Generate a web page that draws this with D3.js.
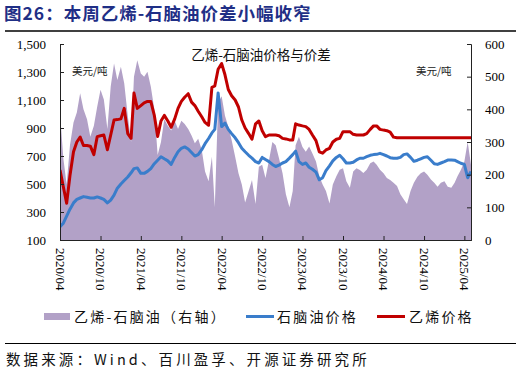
<!DOCTYPE html>
<html>
<head>
<meta charset="utf-8">
<script src="https://cdn.jsdelivr.net/npm/d3@7"></script>
<style>
  body { margin: 0; background: #fff; }
  svg { display: block; }
  .num { font-family: "Liberation Serif", "Times New Roman", serif; font-size: 13px; fill: #000; }
  .cjk { font-family: "Noto Sans CJK SC", sans-serif; }
</style>
</head>
<body>
<script>
"use strict";

const WIDTH = 521
const HEIGHT = 374

// half-month samples, 2020/04/01 .. 2025/05/01
const start_year = 2020
const start_month = 3 // April (0-based)

const naphtha = [
    195, 220, 270, 320, 365, 390, 400, 410, 405, 400, 400, 408,
    400, 390, 365, 385, 420, 470, 500, 525, 550, 580, 610, 615,
    576, 576, 590, 610, 645, 670, 695, 680, 665, 640, 690, 730,
    755, 765, 750, 725, 700, 710, 745, 788, 825, 865, 890, 1150,
    910, 935, 890, 860, 830, 795, 755, 730, 705, 685, 660, 650,
    690, 675, 660, 640, 625, 635, 650, 660, 685, 710, 735, 660,
    640, 650, 620, 605, 585, 530, 545, 595, 630, 665, 690, 705,
    680, 650, 650, 655, 672, 684, 684, 695, 705, 710, 712, 719,
    710, 700, 688, 684, 684, 690, 710, 715, 690, 662, 670, 680,
    690, 695, 670, 645, 640, 650, 660, 671, 672, 670, 660, 648,
    640, 545, 590
]

const ethylene = [
    600, 480, 362, 560, 730, 800, 835, 775, 775, 770, 710, 838,
    845, 850, 745, 850, 957, 960, 965, 1040, 860, 826, 1150, 1040,
    1060, 1080, 1090, 1090, 990, 840, 950, 990, 950, 905, 965, 1040,
    1090, 1120, 1145, 1085, 1060, 1020, 980, 940, 920, 1190, 1200, 1320,
    1360, 1280, 1175, 1130, 1100, 1050, 957, 900, 860, 820, 930, 950,
    880, 838, 850, 850, 850, 845, 826, 822, 815, 814, 930, 921,
    915, 910, 890, 850, 810, 730, 720, 743, 755, 800, 820, 826,
    874, 874, 874, 855, 850, 850, 850, 860, 890, 915, 915, 890,
    885, 881, 870, 835, 830, 830, 830, 830, 830, 830, 830, 830,
    830, 830, 830, 830, 830, 830, 830, 830, 830, 830, 830, 830,
    830, 830, 830
]

const spread = [
    390, 250, 170, 290, 360, 390, 449, 400, 370, 316, 350, 408,
    460, 430, 340, 470, 540, 490, 530, 480, 380, 300, 500, 550,
    510, 500, 515, 470, 400, 260, 300, 370, 350, 335, 365, 340,
    365, 355, 340, 320, 296, 310, 276, 210, 180, 255, 100, 420,
    440, 380, 347, 306, 255, 204, 170, 115, 150, 184, 110, 224,
    230, 190, 245, 300, 290, 250, 204, 140, 100, 150, 290, 316,
    285, 270, 286, 265, 240, 195, 170, 150, 112, 170, 195, 215,
    220, 180, 160, 210, 220, 214, 205, 215, 235, 240, 230, 215,
    204, 190, 184, 175, 165, 140, 125, 110, 150, 175, 194, 204,
    210, 200, 185, 175, 163, 175, 180, 163, 160, 175, 195, 214,
    240, 300, 230
]

const left_ticks = [100, 300, 500, 700, 900, 1100, 1300, 1500]
const right_ticks = [0, 100, 200, 300, 400, 500, 600]
const x_tick_labels = ["2020/04", "2020/10", "2021/04", "2021/10", "2022/04", "2022/10",
    "2023/04", "2023/10", "2024/04", "2024/10", "2025/04"]

const dates = naphtha.map((_, i) =>
    new Date(start_year, start_month + Math.floor(i / 2), i % 2 ? 16 : 1))

const rows = dates.map((d, i) => ({
    date: d, naphtha: naphtha[i], ethylene: ethylene[i], spread: spread[i]
}))

const PURPLE = "#b2a1c7"
const BLUE = "#3a7dcb"
const RED = "#c00000"

const plot = { left: 60, right: 471, top: 44, bottom: 240 }

const svg = d3.select("body").append("svg")
    .attr("width", WIDTH)
    .attr("height", HEIGHT)

// title block
svg.append("text")
    .attr("class", "cjk")
    .attr("x", 4)
    .attr("y", 20)
    .attr("font-size", 17.5)
    .attr("font-weight", "bold")
    .attr("letter-spacing", 1)
    .attr("fill", "#1f2f86")
    .text("图26：本周乙烯-石脑油价差小幅收窄")

svg.append("line")
    .attr("x1", 5).attr("x2", 516)
    .attr("y1", 31).attr("y2", 31)
    .attr("stroke", "#000").attr("stroke-width", 1.5)

const x = d3.scaleTime()
    .domain([new Date(2020, 3, 1), new Date(2025, 4, 1)])
    .range([plot.left, plot.right])
const yL = d3.scaleLinear().domain([100, 1500]).range([plot.bottom, plot.top])
const yR = d3.scaleLinear().domain([0, 600]).range([plot.bottom, plot.top])

svg.append("clipPath").attr("id", "clip")
    .append("rect")
    .attr("x", plot.left).attr("y", plot.top)
    .attr("width", plot.right - plot.left).attr("height", plot.bottom - plot.top)

const g = svg.append("g").attr("clip-path", "url(#clip)")

g.append("path")
    .datum(rows)
    .attr("fill", PURPLE)
    .attr("d", d3.area().x(d => x(d.date)).y0(yR(0)).y1(d => yR(d.spread)))

g.append("path")
    .datum(rows)
    .attr("fill", "none")
    .attr("stroke", BLUE)
    .attr("stroke-width", 3)
    .attr("stroke-linejoin", "round")
    .attr("d", d3.line().x(d => x(d.date)).y(d => yL(d.naphtha)))

g.append("path")
    .datum(rows)
    .attr("fill", "none")
    .attr("stroke", RED)
    .attr("stroke-width", 3)
    .attr("stroke-linejoin", "round")
    .attr("d", d3.line().x(d => x(d.date)).y(d => yL(d.ethylene)))

// axes (ticks point inward)
const axisL = svg.append("g")
    .attr("transform", `translate(${plot.left},0)`)
    .call(d3.axisLeft(yL).tickValues(left_ticks).tickFormat(d3.format(",")).tickSize(-4).tickPadding(14))
const axisR = svg.append("g")
    .attr("transform", `translate(${plot.right},0)`)
    .call(d3.axisRight(yR).tickValues(right_ticks).tickSize(-4).tickPadding(14))

const x_tick_dates = x_tick_labels.map(s => d3.timeParse("%Y/%m")(s))
const axisB = svg.append("g")
    .attr("transform", `translate(0,${plot.bottom})`)
    .call(d3.axisBottom(x).tickValues(x_tick_dates).tickFormat(d3.timeFormat("%Y/%m")).tickSize(-4).tickPadding(0))

for (const a of [axisL, axisR, axisB]) {
    a.selectAll("path.domain").attr("stroke", "#222").attr("stroke-width", 1)
    a.selectAll(".tick line").attr("stroke", "#222")
    a.selectAll(".tick text").attr("class", "num").attr("font-family", null).attr("font-size", null)
}
axisB.selectAll(".tick text")
    .attr("transform", "translate(0,8) rotate(90)")
    .attr("x", 0).attr("y", 0)
    .attr("dy", "0.35em")
    .attr("text-anchor", "start")

// inner labels
svg.append("text")
    .attr("class", "cjk")
    .attr("x", 261).attr("y", 60)
    .attr("text-anchor", "middle")
    .attr("font-size", 13.5)
    .attr("fill", "#111")
    .text("乙烯-石脑油价格与价差")

svg.append("text")
    .attr("class", "cjk")
    .attr("x", 72).attr("y", 75)
    .attr("font-size", 10.5)
    .attr("fill", "#222")
    .text("美元/吨")

svg.append("text")
    .attr("class", "cjk")
    .attr("x", 416).attr("y", 75)
    .attr("font-size", 10.5)
    .attr("fill", "#222")
    .text("美元/吨")

// legend
const legend = svg.append("g").attr("class", "cjk").attr("font-size", 14).attr("fill", "#111")
legend.append("rect").attr("x", 44).attr("y", 313).attr("width", 26).attr("height", 7).attr("fill", PURPLE)
legend.append("text").attr("x", 74).attr("y", 321.5).attr("letter-spacing", 2.2).text("乙烯-石脑油（右轴）")
legend.append("line").attr("x1", 246).attr("x2", 274).attr("y1", 316.5).attr("y2", 316.5)
    .attr("stroke", BLUE).attr("stroke-width", 3)
legend.append("text").attr("x", 277).attr("y", 321.5).attr("letter-spacing", 2.2).text("石脑油价格")
legend.append("line").attr("x1", 377).attr("x2", 405).attr("y1", 316.5).attr("y2", 316.5)
    .attr("stroke", RED).attr("stroke-width", 3)
legend.append("text").attr("x", 409).attr("y", 321.5).attr("letter-spacing", 2.2).text("乙烯价格")

svg.append("line")
    .attr("x1", 5).attr("x2", 516)
    .attr("y1", 343.5).attr("y2", 343.5)
    .attr("stroke", "#000").attr("stroke-width", 1)

svg.append("text")
    .attr("class", "cjk")
    .attr("x", 6).attr("y", 365)
    .attr("font-size", 14.5)
    .attr("letter-spacing", 3.1)
    .attr("fill", "#111")
    .text("数据来源：Wind、百川盈孚、开源证券研究所")
</script>
</body>
</html>
